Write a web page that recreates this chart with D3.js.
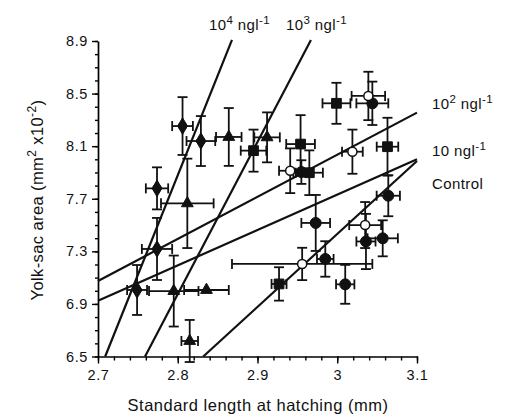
<!DOCTYPE html>
<html>
<head>
<meta charset="utf-8">
<script src="https://cdn.jsdelivr.net/npm/d3@7"></script>
<style>
  body { margin: 0; background: #fff; }
  text { font-family: "Liberation Sans", Arial, sans-serif; fill: #111; }
</style>
</head>
<body>
<div id="chart"></div>
<script>
const width = 507,
    height = 420

// x ticks and y ticks
const xTicks = [2.7, 2.8, 2.9, 3.0, 3.1]
const xTickLabels = ["2.7", "2.8", "2.9", "3", "3.1"]
const yTicks = [6.5, 6.9, 7.3, 7.7, 8.1, 8.5, 8.9]

// points per group: [x, y, xerr, yerr]
const diamonds = [
    [2.806, 8.253, 0.013, 0.22],
    [2.829, 8.139, 0.018, 0.19],
    [2.774, 7.779, 0.014, 0.16],
    [2.774, 7.318, 0.019, 0.236],
    [2.749, 7.006, 0.0125, 0.19]
]
const triangles = [
    [2.864, 8.170, 0.016, 0.22],
    [2.912, 8.167, 0.016, 0.19],
    [2.812, 7.665, 0.033, 0.34],
    [2.795, 6.998, 0.031, 0.27],
    [2.836, 7.006, 0.028, 0.0],
    [2.815, 6.618, 0.0104, 0.16]
]
const squares = [
    [2.895, 8.066, 0.016, 0.16],
    [2.954, 8.116, 0.018, 0.22],
    [2.965, 7.898, 0.017, 0.17],
    [2.999, 8.426, 0.0175, 0.156],
    [3.063, 8.096, 0.0135, 0.22],
    [2.927, 7.052, 0.0094, 0.127]
]
const openCircles = [
    [2.941, 7.913, 0.014, 0.17],
    [3.019, 8.058, 0.013, 0.168],
    [3.039, 8.482, 0.021, 0.184],
    [2.956, 7.204, 0.088, 0.123],
    [3.035, 7.500, 0.020, 0.175]
]
const filledCircles = [
    [2.955, 7.903, 0.010, 0.09],
    [3.044, 8.426, 0.020, 0.165],
    [3.064, 7.723, 0.0146, 0.156],
    [2.973, 7.516, 0.018, 0.213],
    [2.985, 7.242, 0.0104, 0.135],
    [3.010, 7.049, 0.0115, 0.148],
    [3.036, 7.375, 0.012, 0.21],
    [3.057, 7.399, 0.019, 0.137]
]

// regression lines: [x1, y1, x2, y2]
const lineExps = ["4", "3", "2", "", ""]
const lineEnds = [
    [2.709, 6.5, 2.868, 8.908],
    [2.759, 6.5, 2.967, 8.908],
    [2.7, 7.074, 3.1, 8.355],
    [2.7, 6.924, 3.1, 8.0],
    [2.832, 6.5, 3.1, 7.987]
]

const svg = d3.select("#chart")
    .append("svg")
        .attr("width", width)
        .attr("height", height)

const x = d3.scaleLinear().domain([2.7, 3.1]).range([98, 417])
const y = d3.scaleLinear().domain([6.5, 8.9]).range([356.5, 41])

// minor ticks
svg.append("g")
    .attr("transform", "translate(98,0)")
    .call(d3.axisLeft(y).tickValues(d3.range(65, 90).map(d => d / 10)).tickSize(3).tickFormat(""))
    .call(g => g.select(".domain").remove())
svg.append("g")
    .attr("transform", "translate(0,356.5)")
    .call(d3.axisBottom(x).tickValues(d3.range(135, 156).map(d => d / 50)).tickSize(4).tickFormat(""))
    .call(g => g.select(".domain").remove())

const yAxis = svg.append("g")
    .attr("transform", "translate(98,0)")
    .call(d3.axisLeft(y).tickValues(yTicks).tickSize(6).tickSizeOuter(0).tickFormat(d3.format(".1f")))
const xAxis = svg.append("g")
    .attr("transform", "translate(0,356.5)")
    .call(d3.axisBottom(x).tickValues(xTicks).tickSize(7).tickSizeOuter(0).tickFormat((d, i) => xTickLabels[i]))

svg.selectAll(".domain").attr("stroke-width", 1.7)
svg.selectAll(".tick line").attr("stroke-width", 1.4)
svg.selectAll(".tick text")
    .style("font-family", "Liberation Sans, Arial, sans-serif")
    .attr("font-size", 14.5)
    .attr("letter-spacing", 0.6)
    .attr("fill", "#111")
yAxis.selectAll("text").attr("x", -10)
xAxis.selectAll("text").attr("dy", "1.0em").attr("y", 9)

// axis titles
svg.append("text")
    .attr("x", 258)
    .attr("y", 411)
    .attr("text-anchor", "middle")
    .attr("font-size", 16.5)
    .attr("letter-spacing", 0.5)
    .text("Standard length at hatching (mm)")

const yTitle = svg.append("text")
    .attr("transform", "translate(43,200) rotate(-90)")
    .attr("text-anchor", "middle")
    .attr("font-size", 16.5)
    .attr("letter-spacing", 0.4)
yTitle.append("tspan").text("Yolk-sac area (mm")
yTitle.append("tspan").attr("font-size", 12).attr("dy", -7).text("2")
yTitle.append("tspan").attr("dy", 7).text(" x10")
yTitle.append("tspan").attr("font-size", 12).attr("dy", -7).text("-2")
yTitle.append("tspan").attr("dy", 7).text(")")

// lines
svg.selectAll(".fit")
    .data(lineEnds)
    .enter()
    .append("line")
        .attr("x1", d => x(d[0]))
        .attr("y1", d => y(d[1]))
        .attr("x2", d => x(d[2]))
        .attr("y2", d => y(d[3]))
        .attr("stroke", "#111")
        .attr("stroke-width", 2.2)

// line labels
function label(px, py, exp, plain) {
    const t = svg.append("text").attr("x", px).attr("y", py)
        .attr("font-size", 15).attr("letter-spacing", 0.4)
    if (plain) { t.text(plain); return }
    t.append("tspan").text("10")
    if (exp) t.append("tspan").attr("font-size", 11.5).attr("dy", -6).text(exp)
    t.append("tspan").attr("dy", exp ? 6 : 0).text(" ngl")
    t.append("tspan").attr("font-size", 11.5).attr("dy", -6).text("-1")
}
label(209, 30, lineExps[0])
label(286, 30, lineExps[1])
label(432, 109, lineExps[2])
label(432, 156, lineExps[3])
label(432, 189, null, "Control")

// error bars
const allPoints = [].concat(diamonds, triangles, squares, openCircles, filledCircles)
const cap = 5
const eb = svg.append("g").attr("stroke", "#111").attr("stroke-width", 1.8)
allPoints.forEach(d => {
    const cx = x(d[0]), cy = y(d[1])
    if (d[2] > 0) {
        const x1 = x(d[0] - d[2]), x2 = x(d[0] + d[2])
        eb.append("line").attr("x1", x1).attr("x2", x2).attr("y1", cy).attr("y2", cy)
        eb.append("line").attr("x1", x1).attr("x2", x1).attr("y1", cy - cap).attr("y2", cy + cap)
        eb.append("line").attr("x1", x2).attr("x2", x2).attr("y1", cy - cap).attr("y2", cy + cap)
    }
    if (d[3] > 0) {
        const y1 = y(d[1] - d[3]), y2 = y(d[1] + d[3])
        eb.append("line").attr("x1", cx).attr("x2", cx).attr("y1", y1).attr("y2", y2)
        eb.append("line").attr("x1", cx - cap).attr("x2", cx + cap).attr("y1", y1).attr("y2", y1)
        eb.append("line").attr("x1", cx - cap).attr("x2", cx + cap).attr("y1", y2).attr("y2", y2)
    }
})

// markers
function marker(data, type, size, open) {
    svg.append("g")
        .selectAll("path")
        .data(data)
        .enter()
        .append("path")
            .attr("d", d3.symbol().type(type).size(size))
            .attr("transform", d => `translate(${x(d[0])},${y(d[1])})`)
            .attr("fill", open ? "#fff" : "#111")
            .attr("stroke", "#111")
            .attr("stroke-width", open ? 1.5 : 1)
}
marker(diamonds, d3.symbolDiamond, 80)
marker(diamonds, d3.symbolCircle, 55)
marker(triangles, d3.symbolTriangle, 60)
marker(squares, d3.symbolSquare, 95)
marker(filledCircles, d3.symbolCircle, 95)
marker(openCircles, d3.symbolCircle, 65, true)
</script>
</body>
</html>
